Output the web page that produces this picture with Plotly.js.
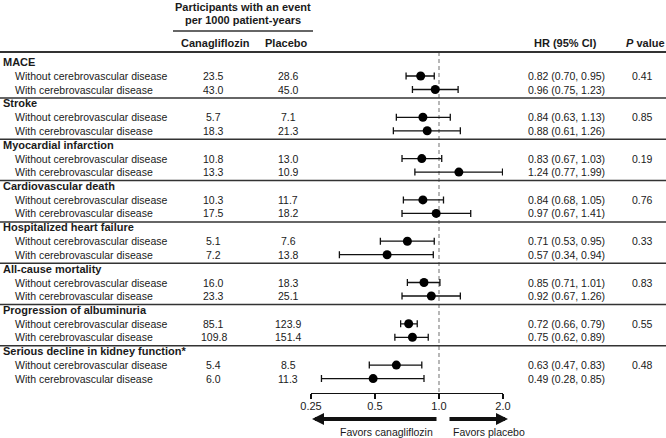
<!DOCTYPE html>
<html>
<head>
<meta charset="utf-8">
<script src="https://cdn.plot.ly/plotly-3.0.1.min.js"></script>
<style>
  html, body { margin: 0; padding: 0; background: #fff; }
  #chart { width: 666px; height: 438px; }
</style>
</head>
<body>
<div id="chart"></div>
<script>
var groups = ['MACE', 'Stroke', 'Myocardial infarction', 'Cardiovascular death',
    'Hospitalized heart failure', 'All-cause mortality', 'Progression of albuminuria',
    'Serious decline in kidney function*'];
var subgroups = ['Without cerebrovascular disease', 'With cerebrovascular disease'];

var canaWithout = [23.5, 5.7, 10.8, 10.3, 5.1, 16.0, 85.1, 5.4];
var canaWith = [43.0, 18.3, 13.3, 17.5, 7.2, 23.3, 109.8, 6.0];
var placeboWithout = [28.6, 7.1, 13.0, 11.7, 7.6, 18.3, 123.9, 8.5];
var placeboWith = [45.0, 21.3, 10.9, 18.2, 13.8, 25.1, 151.4, 11.3];

var hrWithout = [0.82, 0.84, 0.83, 0.84, 0.71, 0.85, 0.72, 0.63];
var loWithout = [0.70, 0.63, 0.67, 0.68, 0.53, 0.71, 0.66, 0.47];
var hiWithout = [0.95, 1.13, 1.03, 1.05, 0.95, 1.01, 0.79, 0.83];
var hrWith = [0.96, 0.88, 1.24, 0.97, 0.57, 0.92, 0.75, 0.49];
var loWith = [0.75, 0.61, 0.77, 0.67, 0.34, 0.67, 0.62, 0.28];
var hiWith = [1.23, 1.26, 1.99, 1.41, 0.94, 1.26, 0.89, 0.85];

var pValues = ['0.41', '0.85', '0.19', '0.76', '0.33', '0.83', '0.55', '0.48'];

var tickVals = [0.25, 0.5, 1, 2];
var tickText = ['0.25', '0.5', '1.0', '2.0'];

// layout: y axis runs in pixel rows, so rows line up with the text columns
var W = 666, H = 438;
var axisY = 392.5;
var firstRow = 76, groupStep = 41.3, rowStep = 13.5;
var font = 'Liberation Sans, Arial, sans-serif';
var ink = '#1a1a1a';

function rowY(g, k) { return firstRow + g * groupStep + k * rowStep; }
function px(x) { return x / W; }
function py(y) { return (H - y) / H; }

var ys = [], hrs = [], plus = [], minus = [];
var annotations = [];
var shapes = [];

function addText(text, x, y, anchor, size) {
    annotations.push({
        text: text, xref: 'paper', yref: 'paper', x: px(x), y: py(y),
        xanchor: anchor, yanchor: 'middle', showarrow: false,
        font: {family: font, size: size || 10.5, color: ink}
    });
}

for (var g = 0; g < groups.length; g++) {
    var rows = [
        [canaWithout[g], placeboWithout[g], hrWithout[g], loWithout[g], hiWithout[g]],
        [canaWith[g], placeboWith[g], hrWith[g], loWith[g], hiWith[g]]
    ];
    addText('<b>' + groups[g] + '</b>', 1, rowY(g, 0) - 14, 'left', 11);
    for (var k = 0; k < 2; k++) {
        var r = rows[k];
        var y = rowY(g, k);
        ys.push(y);
        hrs.push(r[2]);
        plus.push(r[4] - r[2]);
        minus.push(r[2] - r[3]);
        addText(subgroups[k], 13, y, 'left');
        addText(r[0].toFixed(1), 214, y, 'center');
        addText(r[1].toFixed(1), 288, y, 'center');
        addText(r[2].toFixed(2) + ' (' + r[3].toFixed(2) + ', ' + r[4].toFixed(2) + ')', 566, y, 'center');
    }
    addText(pValues[g], 642, rowY(g, 0), 'center');
    if (g < groups.length - 1) {
        shapes.push({type: 'line', xref: 'paper', yref: 'y', x0: 0, x1: 1,
            y0: rowY(g, 0) + 22, y1: rowY(g, 0) + 22, line: {color: '#333', width: 1.5}});
    }
}

// header
addText('<b>Participants with an event</b>', 243, 7, 'center', 11);
addText('<b>per 1000 patient-years</b>', 243, 20, 'center', 11);
addText('<b>Canagliflozin</b>', 215, 43, 'center', 11);
addText('<b>Placebo</b>', 286, 43, 'center', 11);
addText('<b>HR (95% CI)</b>', 565, 43, 'center', 11);
addText('<b><i>P</i> value</b>', 645, 43, 'center', 11);
shapes.push({type: 'line', xref: 'paper', yref: 'y', x0: px(173), x1: px(313),
    y0: 31, y1: 31, line: {color: '#333', width: 1.5}});
shapes.push({type: 'line', xref: 'paper', yref: 'y', x0: 0, x1: 1,
    y0: 52, y1: 52, line: {color: '#333', width: 1.8}});

// favors arrows (below the axis, so in paper coordinates)
annotations.push({text: '', xref: 'paper', yref: 'paper', x: px(312), y: py(419),
    ax: 126, ay: 0, showarrow: true, arrowhead: 2, arrowsize: 0.6, arrowwidth: 4, arrowcolor: '#111'});
annotations.push({text: '', xref: 'paper', yref: 'paper', x: px(508), y: py(419),
    ax: -60, ay: 0, showarrow: true, arrowhead: 2, arrowsize: 0.6, arrowwidth: 4, arrowcolor: '#111'});
addText('Favors canagliflozin', 435, 432, 'right');
addText('Favors placebo', 451, 432, 'left');

var data = [
    {
        x: [1, 1], y: [52, axisY], mode: 'lines', type: 'scatter',
        line: {color: '#888', width: 1.2, dash: '4px,3px'},
        hoverinfo: 'skip', showlegend: false
    },
    {
        x: hrs, y: ys, mode: 'markers', type: 'scatter',
        marker: {color: '#000', size: 9},
        error_x: {type: 'data', array: plus, arrayminus: minus, visible: true,
            color: '#111', thickness: 1.3, width: 3.5},
        showlegend: false
    }
];

var layout = {
    width: W, height: H,
    margin: {l: 0, r: 0, t: 0, b: 0},
    paper_bgcolor: '#fff', plot_bgcolor: '#fff',
    showlegend: false,
    xaxis: {
        type: 'log',
        range: [Math.log10(0.25), Math.log10(2)],
        domain: [px(311), px(503)],
        tickvals: tickVals, ticktext: tickText,
        showline: true, linecolor: '#111', linewidth: 1.3,
        ticks: 'outside', ticklen: 5, tickwidth: 1.3, tickcolor: '#111',
        ticklabelstandoff: -2,
        showgrid: false, zeroline: false,
        tickfont: {family: font, size: 11, color: ink}
    },
    yaxis: {
        range: [axisY, 0],
        domain: [(H - axisY) / H, 1],
        visible: false, showgrid: false, zeroline: false
    },
    annotations: annotations,
    shapes: shapes
};

Plotly.newPlot('chart', data, layout, {staticPlot: true});
</script>
</body>
</html>
